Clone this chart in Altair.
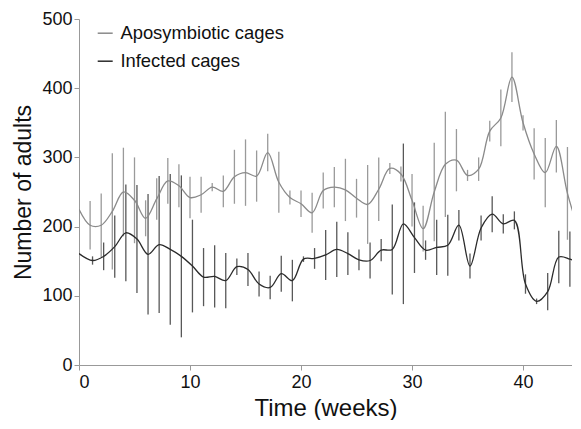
import altair as alt
import pandas as pd

# ---- data ----
apo_weeks = [0, 1, 2, 3, 4, 5, 6, 7, 8, 9, 10, 11, 12, 13, 14, 15, 16, 17, 18, 19, 20, 21, 22,
             23, 24, 25, 26, 27, 28, 29, 30, 31, 32, 33, 34, 35, 36, 37, 38, 39, 40, 41, 42, 43, 44, 45]
apo_mean = [225, 202, 202, 222, 250, 238, 212, 240, 266, 259, 242, 246, 257, 251, 272, 278, 273,
            307, 264, 242, 233, 220, 252, 257, 253, 241, 232, 254, 284, 276, 238, 197, 250, 290,
            296, 274, 283, 338, 357, 416, 350, 305, 278, 316, 248, 195]
apo_err = [0, 35, 46, 84, 64, 62, 26, 30, 33, 31, 30, 26, 6, 23, 39, 48, 37, 27, 44, 10, 19, 29,
           26, 29, 45, 28, 57, 46, 8, 11, 38, 33, 71, 76, 45, 8, 17, 15, 41, 36, 11, 37, 50, 38, 67, 0]

inf_weeks = [0, 1.22, 2.22, 3.22, 4.22, 5.22, 6.22, 7.22, 8.22, 9.22, 10.22, 11.22, 12.22, 13.22,
             14.22, 15.22, 16.22, 17.22, 18.22, 19.22, 20.22, 21.22, 22.22, 23.22, 24.22, 25.22,
             26.22, 27.22, 28.22, 29.22, 30.22, 31.22, 32.22, 33.22, 34.22, 35.22, 36.22, 37.22,
             38.22, 39.22, 40.22, 41.22, 42.22, 43.22, 44.22, 45.22]
inf_mean = [161, 151, 157, 171, 191, 182, 160, 174, 167, 157, 143, 127, 128, 122, 142, 138, 117,
            112, 132, 122, 153, 154, 159, 167, 161, 152, 151, 166, 167, 204, 184, 166, 170, 173,
            202, 143, 198, 218, 204, 209, 117, 92, 106, 156, 153, 146]
inf_err = [0, 6, 20, 45, 70, 78, 87, 99, 109, 117, 67, 42, 45, 40, 12, 24, 18, 17, 26, 30, 4, 15,
           36, 40, 31, 15, 26, 16, 65, 116, 51, 14, 40, 44, 22, 18, 18, 26, 14, 13, 14, 4, 27, 38, 40, 0]

series_names = ["Aposymbiotic cages", "Infected cages"]
line_colors = ["#8a8a8a", "#2b2b2b"]
bar_colors = ["#9a9a9a", "#585858"]

df = pd.concat([
    pd.DataFrame({"series": series_names[0], "week": apo_weeks, "value": apo_mean, "err": apo_err}),
    pd.DataFrame({"series": series_names[1], "week": inf_weeks, "value": inf_mean, "err": inf_err}),
])

FONT = "Liberation Sans"

x = alt.X("week:Q", scale=alt.Scale(domain=[0, 44.41], nice=False),
          axis=alt.Axis(values=[0, 10, 20, 30, 40], title="Time (weeks)",
                        titleFontSize=24))
y = alt.Y("value:Q", scale=alt.Scale(domain=[0, 500], nice=False),
          axis=alt.Axis(values=list(range(0, 501, 50)), title="Number of adults",
                        titleFontSize=23))

bars = alt.Chart(df).transform_filter("datum.err > 0").transform_calculate(
    lo="datum.value - datum.err", hi="datum.value + datum.err"
).mark_rule(strokeWidth=1.3, clip=True).encode(
    x=alt.X("week:Q"),
    y=alt.Y("lo:Q"),
    y2="hi:Q",
    color=alt.Color("series:N", scale=alt.Scale(domain=series_names, range=bar_colors), legend=None),
)

lines = alt.Chart(df).mark_line(interpolate="catmull-rom", strokeWidth=1.3, clip=True).encode(
    x=x, y=y,
    color=alt.Color("series:N", scale=alt.Scale(domain=series_names, range=line_colors),
                    legend=alt.Legend(title=None, orient="none", legendX=17, legendY=5,
                                      symbolType="stroke", symbolSize=225, symbolStrokeWidth=1.5,
                                      labelFontSize=18.4, labelOffset=6, rowPadding=9,
                                      labelLimit=400, padding=0, labelFont=FONT,
                                      labelColor="#111")),
)

chart = alt.layer(bars, lines).resolve_scale(color="independent").properties(
    width=493, height=346,
    padding={"left": 4, "top": 2, "right": 0, "bottom": 0},
).configure_view(stroke=None).configure_axis(
    grid=False, domainColor="#999999", tickColor="#999999", tickSize=5,
    labelFont=FONT, labelFontSize=18, labelColor="#111",
    titleFont=FONT, titleFontWeight="normal", titleColor="#111",
).configure_axisX(labelPadding=3, titlePadding=5).configure_axisY(labelPadding=2, titlePadding=6)

chart.save("out.html", embed_options={"renderer": "svg", "actions": False})
